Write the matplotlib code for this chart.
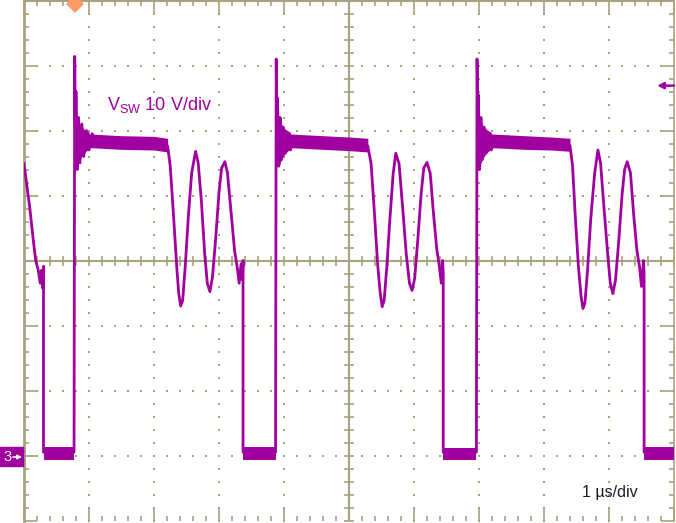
import numpy as np
import matplotlib
matplotlib.use('Agg')
import matplotlib.pyplot as plt
from matplotlib.patches import Rectangle

# scope trace, time in us (1 us/div), voltage in V (10 V/div), ground at 0 V
t_trace = [0.00, 0.05, 0.09, 0.14, 0.18, 0.22, 0.25, 0.27, 0.29, 0.30, 0.30,
           0.77, 0.78, 0.79, 0.80, 0.82, 0.84, 0.86, 0.89, 0.92, 0.96, 1.00, 1.05, 1.10,
           2.21, 2.25, 2.30, 2.35, 2.38, 2.41, 2.44, 2.48, 2.53, 2.58, 2.64, 2.68, 2.73,
           2.78, 2.82, 2.86, 2.90, 2.95, 3.00, 3.04, 3.09, 3.13, 3.19, 3.24, 3.28, 3.31,
           3.34, 3.36, 3.37, 3.37,
           3.87, 3.88, 3.89, 3.90, 3.92, 3.94, 3.96, 3.99, 4.02, 4.06, 4.10, 4.15, 4.20,
           5.29, 5.34, 5.39, 5.44, 5.48, 5.51, 5.54, 5.58, 5.63, 5.68, 5.72, 5.77, 5.82,
           5.88, 5.93, 5.97, 6.01, 6.06, 6.11, 6.15, 6.20, 6.25, 6.30, 6.35, 6.39, 6.42,
           6.44, 6.45, 6.45,
           6.96, 6.97, 6.98, 6.99, 7.01, 7.03, 7.05, 7.08, 7.11, 7.15, 7.19, 7.24, 7.29,
           8.40, 8.44, 8.48, 8.53, 8.57, 8.60, 8.63, 8.67, 8.72, 8.78, 8.83, 8.87, 8.92,
           8.98, 9.02, 9.06, 9.10, 9.15, 9.20, 9.24, 9.28, 9.33, 9.38, 9.43, 9.47, 9.50,
           9.53, 9.54, 9.54, 10.0]
v_trace = [44.9, 41.1, 38.0, 33.4, 30.0, 28.5, 26.5, 28.5, 25.7, 29.1, 0.5,
           0.5, 61.4, 50.0, 56.0, 44.0, 52.0, 45.0, 51.0, 46.0, 50.0, 47.0, 49.5, 48.3,
           47.6, 44.5, 37.0, 29.0, 25.0, 23.0, 23.8, 29.0, 37.0, 43.5, 46.8, 45.0, 39.0,
           31.0, 26.5, 25.2, 27.5, 33.5, 40.5, 44.2, 45.2, 43.5, 37.0, 31.5, 29.0, 26.5,
           29.5, 27.0, 30.0, 0.5,
           0.5, 61.0, 51.0, 55.0, 44.5, 52.0, 45.5, 50.5, 46.5, 49.5, 47.0, 49.0, 48.2,
           47.6, 44.9, 37.5, 29.5, 25.0, 22.9, 23.8, 28.8, 36.5, 43.4, 46.5, 44.9, 38.8,
           31.1, 26.5, 25.4, 27.2, 33.4, 40.3, 44.2, 45.1, 43.4, 37.2, 31.8, 29.1, 26.5,
           30.0, 28.0, 0.5,
           0.5, 61.0, 51.0, 55.5, 44.0, 52.0, 45.5, 50.5, 46.5, 49.5, 47.0, 49.0, 48.2,
           47.7, 44.5, 37.0, 29.0, 24.5, 22.6, 23.5, 28.5, 36.5, 43.5, 47.0, 45.0, 38.5,
           31.0, 26.5, 24.9, 27.0, 33.0, 40.0, 44.0, 45.2, 43.5, 37.0, 31.5, 29.0, 26.0,
           30.0, 28.0, 0.5, 0.5]

# ringing envelope right after each turn-on spike
ring_t = [[0.79, 0.82, 0.86, 0.92, 1.00], [3.89, 3.92, 3.96, 4.02, 4.10], [6.98, 7.01, 7.05, 7.11, 7.19]]
ring_hi = [[54.0, 52.0, 51.0, 50.2, 49.8], [54.0, 52.0, 51.0, 50.2, 49.7], [54.0, 52.0, 51.0, 50.2, 49.7]]
ring_lo = [[45.0, 44.5, 45.5, 46.5, 47.2], [45.0, 44.5, 45.5, 46.5, 47.2], [45.0, 44.5, 45.5, 46.5, 47.2]]

# noisy plateau (switch on) envelopes
plat_t = [[0.95, 1.5, 2.0, 2.21], [4.02, 4.6, 5.0, 5.29], [7.12, 7.7, 8.1, 8.40]]
plat_hi = [[49.5, 49.2, 49.1, 48.8], [49.5, 49.2, 49.0, 48.8], [49.5, 49.2, 49.0, 48.8]]
plat_lo = [[47.4, 47.1, 47.0, 46.7], [47.4, 47.1, 46.9, 46.7], [47.4, 47.1, 47.0, 46.8]]

# noisy low level (switch off) envelopes
low_t = [[0.30, 0.77], [3.37, 3.87], [6.45, 6.96], [9.54, 10.0]]
low_hi = [1.3, 1.3, 1.2, 1.3]
low_lo = [-0.7, -0.7, -0.7, -0.7]

trace_c = '#a000a0'
grid_c = '#a8a27f'

fig = plt.figure(figsize=(6.76, 5.23), dpi=100)
ax = fig.add_axes([24 / 676, 2.5 / 523, 650 / 676, 520 / 523])
ax.set_xlim(0, 10)
ax.set_ylim(-10, 70)

# graticule
for s in ['left', 'top', 'right']:
    ax.spines[s].set_color(grid_c)
ax.spines['left'].set_linewidth(2)
ax.spines['top'].set_linewidth(1.5)
ax.spines['right'].set_linewidth(1.2)
ax.spines['bottom'].set_visible(False)
ax.set_xticks(np.arange(0, 10.01, 1))
ax.set_yticks(np.arange(-10, 70.1, 10))
ax.set_xticks(np.arange(0, 10.01, 0.2), minor=True)
ax.set_yticks(np.arange(-10, 70.1, 2), minor=True)
ax.tick_params(which='both', direction='in', top=True, right=True, color=grid_c,
               labelleft=False, labelbottom=False)
ax.tick_params(which='major', length=9.5, width=1.2)
ax.tick_params(which='minor', length=3.8, width=1.2)

xs = np.arange(0, 10.01, 0.2)
ys = np.arange(-10, 70.1, 2)
for gx in [1, 2, 3, 4, 6, 7, 8, 9]:
    ax.plot([gx] * len(ys), ys, ls='', marker='s', ms=1.6, color=grid_c, mew=0)
for gy in [0, 10, 20, 40, 50, 60]:
    ax.plot(xs, [gy] * len(xs), ls='', marker='s', ms=1.6, color=grid_c, mew=0)
ax.axhline(30, color=grid_c, lw=1.5, zorder=1)
ax.axvline(5, color=grid_c, lw=1.5, zorder=1)
ax.plot(xs, [30] * len(xs), ls='', marker='|', ms=7.5, mew=1.2, color=grid_c, zorder=1)
ax.plot([5] * len(ys), ys, ls='', marker='_', ms=7.5, mew=1.2, color=grid_c, zorder=1)

# trace
for i in range(len(ring_t)):
    ax.fill_between(ring_t[i], ring_hi[i], ring_lo[i], color=trace_c, lw=0, zorder=3)
for i in range(len(plat_t)):
    ax.fill_between(plat_t[i], plat_hi[i], plat_lo[i], color=trace_c, lw=0, zorder=3)
for i in range(len(low_t)):
    ax.fill_between(low_t[i], low_hi[i], low_lo[i], color=trace_c, lw=0, zorder=3)
ax.plot(t_trace, v_trace, color=trace_c, lw=2.0, zorder=4)

# labels
plt.rcParams['mathtext.default'] = 'regular'
ax.text(1.28, 53.1, 'V$_{SW}$ 10 V/div', color=trace_c, fontsize=13,
        family='Liberation Sans', va='baseline')
ax.text(8.58, -6.4, '1 \u00b5s/div', color='#201828', fontsize=11.5,
        family='Liberation Sans', va='baseline')

# trigger position and level markers
ax.plot([0.78], [69.5], marker='D', ms=9, color='#ff9a66', mew=0, clip_on=False, zorder=6)
ax.annotate('', xy=(9.74, 56.9), xytext=(10.0, 56.9),
            arrowprops=dict(arrowstyle='-|>', color=trace_c, lw=1.8, mutation_scale=9,
                            shrinkA=0, shrinkB=0))

# channel 3 ground marker
fig.add_artist(Rectangle((0, (523 - 466) / 523), 23 / 676, 19 / 523,
                         transform=fig.transFigure, color=trace_c))
fig.text(7.5 / 676, (523 - 457) / 523, '3', color='white', fontsize=10.5,
         family='Liberation Sans', va='center', ha='center')
fig.add_artist(plt.annotate('', xy=(22 / 676, (523 - 457) / 523), xytext=(13 / 676, (523 - 457) / 523),
                            xycoords='figure fraction',
                            arrowprops=dict(arrowstyle='-|>', color='white', lw=1.2, mutation_scale=6,
                                            shrinkA=0, shrinkB=0)))

fig.savefig('out.png', dpi=100)
